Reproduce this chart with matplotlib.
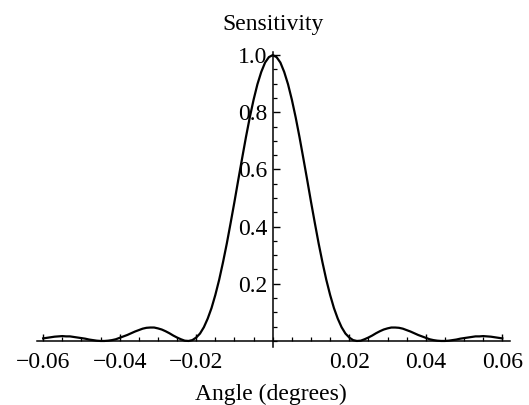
import numpy as np
import matplotlib
matplotlib.use('Agg')
import matplotlib.pyplot as plt
from matplotlib.ticker import MultipleLocator, FixedLocator

# Sensitivity vs angle (symmetric about 0), 0.001 deg steps
angle_half = [round(0.001 * i, 3) for i in range(61)]
sens_half = [1.000, 0.993, 0.974, 0.941, 0.898, 0.844, 0.782, 0.713, 0.639,
             0.564, 0.487, 0.413, 0.341, 0.275, 0.214, 0.161, 0.115, 0.078,
             0.048, 0.026, 0.012, 0.003, 0.000, 0.001, 0.006, 0.012, 0.019,
             0.027, 0.034, 0.040, 0.044, 0.047, 0.047, 0.046, 0.043, 0.038,
             0.033, 0.027, 0.021, 0.016, 0.011, 0.006, 0.003, 0.001, 0.000,
             0.000, 0.001, 0.003, 0.005, 0.008, 0.010, 0.012, 0.014, 0.016,
             0.016, 0.017, 0.016, 0.015, 0.013, 0.011, 0.009]

x_ticks = [-0.06, -0.04, -0.02, 0.02, 0.04, 0.06]
x_labels = ['\u22120.06', '\u22120.04', '\u22120.02', '0.02', '0.04', '0.06']
y_ticks = [0.2, 0.4, 0.6, 0.8, 1.0]
y_labels = ['0.2', '0.4', '0.6', '0.8', '1.0']

angle = np.array([-a for a in angle_half[:0:-1]] + angle_half)
sens = np.array(sens_half[:0:-1] + sens_half)

plt.rcParams['font.family'] = ['Liberation Serif', 'DejaVu Serif']

fig = plt.figure(figsize=(5.29, 4.05), dpi=100)
ax = fig.add_axes([0.070, 0.144, 0.894, 0.727])

ax.plot(angle, sens, color='black', lw=1.6)

ax.set_xlim(-0.0616, 0.062)
ax.set_ylim(-0.02, 1.01)

for side in ['top', 'right']:
    ax.spines[side].set_visible(False)
ax.spines['left'].set_position(('data', 0))
ax.spines['bottom'].set_position(('data', 0))
ax.spines['left'].set_linewidth(1.1)
ax.spines['bottom'].set_linewidth(1.1)

ax.xaxis.set_major_locator(FixedLocator(x_ticks))
ax.set_xticklabels(x_labels)
ax.xaxis.set_minor_locator(MultipleLocator(0.005))
ax.yaxis.set_major_locator(FixedLocator(y_ticks))
ax.set_yticklabels(y_labels)
ax.yaxis.set_minor_locator(MultipleLocator(0.05))

ax.tick_params(axis='both', which='major', direction='in', length=5, width=1.0,
               labelsize=17, color='black')
ax.tick_params(axis='both', which='minor', direction='in', length=3, width=0.9)
ax.tick_params(axis='x', which='major', pad=8)
ax.tick_params(axis='y', which='major', pad=4)

fig.text(0.516, 0.926, 'Sensitivity', ha='center', va='baseline', fontsize=17)
fig.text(0.512, 0.012, 'Angle (degrees)', ha='center', va='baseline', fontsize=17)

fig.savefig('out.png', dpi=100)
